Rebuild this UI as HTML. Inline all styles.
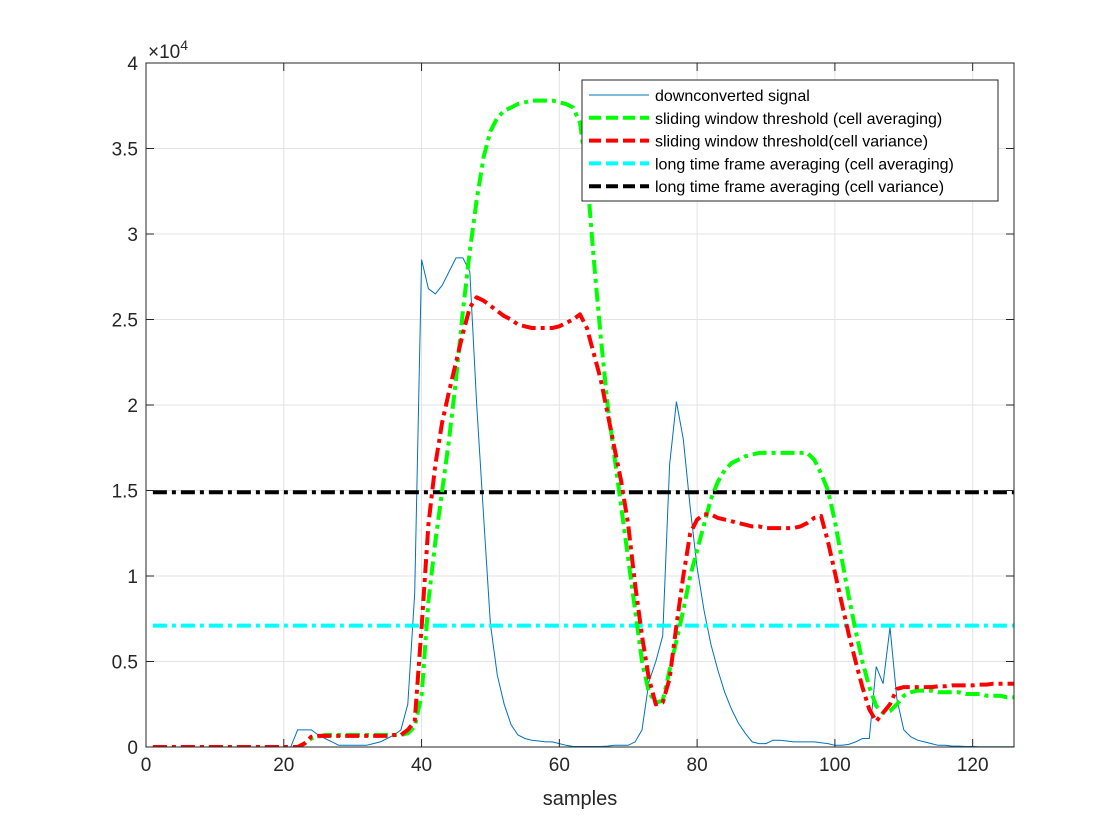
<!DOCTYPE html>
<html><head><meta charset="utf-8"><style>
body{margin:0;background:#fff;}
svg{display:block;font-family:"Liberation Sans",Arial,sans-serif;}
</style></head><body>
<svg id="chart" width="1120" height="840" viewBox="0 0 1120 840">
<rect x="0" y="0" width="1120" height="840" fill="#fff"/>
<g id="grid"></g>
<g id="series" clip-path="url(#clip)"></g>
<defs><clipPath id="clip"><rect x="146" y="63" width="868" height="684"/></clipPath></defs>
<g id="axes"></g>
<g id="legend"></g>
</svg>
<script>
const xTicks=[0,20,40,60,80,100,120];
const yTicks=[0,0.5,1,1.5,2,2.5,3,3.5,4];
const yTickLabels=["0","0.5","1","1.5","2","2.5","3","3.5","4"];
const signal=[0,0,0,0,0,0,0,0,0,0,0,0,0,0,0,0,0,0,0,0,0,0.1,0.1,0.1,0.07,0.05,0.03,0.01,0.01,0.01,0.01,0.01,0.02,0.03,0.05,0.07,0.1,0.25,0.9,2.85,2.68,2.65,2.7,2.78,2.86,2.86,2.78,2.0,1.35,0.72,0.42,0.25,0.13,0.07,0.05,0.04,0.035,0.03,0.03,0.02,0.01,0.003,0.003,0.003,0.003,0.003,0.005,0.01,0.01,0.01,0.03,0.1,0.38,0.5,0.65,1.65,2.02,1.8,1.4,1.05,0.8,0.6,0.45,0.32,0.22,0.14,0.08,0.03,0.02,0.02,0.04,0.04,0.035,0.03,0.03,0.03,0.03,0.025,0.02,0.01,0.01,0.015,0.03,0.05,0.05,0.47,0.37,0.7,0.28,0.1,0.06,0.04,0.03,0.02,0.01,0.01,0.005,0.005,0.003,0.003,0.002,0.002,0.001,0.001,0.001,0.001];
const greenCA=[0,0,0,0,0,0,0,0,0,0,0,0,0,0,0,0,0,0,0,0,0,0,0.02,0.05,0.06,0.07,0.07,0.07,0.07,0.07,0.07,0.07,0.07,0.07,0.07,0.07,0.07,0.08,0.12,0.3,0.85,1.2,1.5,1.8,2.15,2.55,2.9,3.2,3.45,3.6,3.68,3.72,3.74,3.76,3.77,3.78,3.78,3.78,3.78,3.77,3.76,3.74,3.65,3.35,2.85,2.4,2.0,1.7,1.4,1.1,0.8,0.5,0.32,0.26,0.27,0.45,0.62,0.8,1.0,1.15,1.3,1.45,1.55,1.62,1.66,1.68,1.7,1.71,1.72,1.72,1.72,1.72,1.72,1.72,1.72,1.72,1.68,1.6,1.5,1.32,1.1,0.88,0.68,0.5,0.35,0.24,0.2,0.21,0.25,0.3,0.32,0.33,0.33,0.33,0.32,0.32,0.32,0.32,0.31,0.31,0.31,0.3,0.3,0.3,0.29,0.29];
const redCV=[0,0,0,0,0,0,0,0,0,0,0,0,0,0,0,0,0,0,0,0,0,0,0.02,0.06,0.065,0.065,0.065,0.065,0.065,0.065,0.065,0.065,0.065,0.065,0.065,0.07,0.07,0.1,0.15,0.7,1.3,1.65,1.9,2.08,2.25,2.42,2.57,2.63,2.61,2.58,2.55,2.52,2.5,2.47,2.46,2.45,2.45,2.45,2.45,2.46,2.48,2.5,2.53,2.45,2.3,2.15,1.95,1.75,1.55,1.3,0.95,0.65,0.4,0.25,0.26,0.4,0.71,1.0,1.25,1.33,1.36,1.36,1.34,1.33,1.32,1.31,1.3,1.29,1.29,1.28,1.28,1.28,1.28,1.28,1.29,1.31,1.34,1.35,1.2,1.02,0.84,0.66,0.5,0.35,0.22,0.15,0.2,0.25,0.34,0.35,0.35,0.35,0.35,0.35,0.355,0.355,0.36,0.36,0.36,0.36,0.365,0.365,0.37,0.37,0.37,0.37];
const cyanLevel=[0.71];
const blackLevel=[1.49];
const NS="http://www.w3.org/2000/svg";
const X0=146,X1=1014,Y0=747,Y1=63,XMAX=126,YMAX=4;
function sx(v){return X0+v*(X1-X0)/XMAX;}
function sy(v){return Y0-v*(Y0-Y1)/YMAX;}
function mk(tag,attrs,parent){const e=document.createElementNS(NS,tag);for(const k in attrs)e.setAttribute(k,attrs[k]);parent.appendChild(e);return e;}
const grid=document.getElementById('grid'),axes=document.getElementById('axes'),ser=document.getElementById('series'),leg=document.getElementById('legend');
xTicks.forEach(t=>{
 const g=mk('line',{x1:sx(t),x2:sx(t),y1:Y0,y2:Y1,stroke:'#e3e3e3','stroke-width':1},grid);
 
 
 mk('line',{x1:sx(t),x2:sx(t),y1:Y0,y2:Y0-8,stroke:'#262626'},axes);
 mk('line',{x1:sx(t),x2:sx(t),y1:Y1,y2:Y1+8,stroke:'#262626'},axes);
 const tx=mk('text',{x:sx(t),y:Y0+24,'text-anchor':'middle','font-size':19,fill:'#262626'},axes);
 tx.textContent=t;
 
 
});
yTicks.forEach((t,i)=>{
 const g=mk('line',{x1:X0,x2:X1,y1:sy(t),y2:sy(t),stroke:'#e3e3e3','stroke-width':1},grid);
 
 
 mk('line',{x1:X0,x2:X0+8,y1:sy(t),y2:sy(t),stroke:'#262626'},axes);
 mk('line',{x1:X1,x2:X1-8,y1:sy(t),y2:sy(t),stroke:'#262626'},axes);
 const tx=mk('text',{x:X0-8,y:sy(t)+7,'text-anchor':'end','font-size':19,fill:'#262626'},axes);
 tx.textContent=yTickLabels[i];
 
 
});
const box=mk('rect',{x:X0,y:Y1,width:X1-X0,height:Y0-Y1,fill:'none',stroke:'#262626','stroke-width':1},axes);


const ex=mk('text',{x:148,y:58,'font-size':19,fill:'#262626'},axes);
ex.innerHTML='×10<tspan dy="-8" font-size="14">4</tspan>';


const xl=mk('text',{x:580,y:805,'text-anchor':'middle','font-size':20,fill:'#262626'},axes);
xl.textContent='samples';


function pts(arr){return arr.map((v,i)=>sx(i+1).toFixed(1)+','+sy(v).toFixed(1)).join(' ');}
const dd='14,5,4,5';
const s1=mk('polyline',{points:pts(signal),fill:'none',stroke:'#0072BD','stroke-width':1},ser);


const lc=mk('line',{x1:sx(1),x2:sx(XMAX),y1:sy(cyanLevel[0]),y2:sy(cyanLevel[0]),stroke:'#00FFFF','stroke-width':4,'stroke-dasharray':dd},ser);


const lb=mk('line',{x1:sx(1),x2:sx(XMAX),y1:sy(blackLevel[0]),y2:sy(blackLevel[0]),stroke:'#000','stroke-width':4,'stroke-dasharray':dd},ser);


const sg=mk('polyline',{points:pts(greenCA),fill:'none',stroke:'#00FF00','stroke-width':4,'stroke-dasharray':dd,'stroke-linejoin':'round'},ser);


const sr=mk('polyline',{points:pts(redCV),fill:'none',stroke:'#FF0000','stroke-width':4,'stroke-dasharray':dd,'stroke-linejoin':'round'},ser);


const lbox=mk('rect',{x:582,y:80,width:416,height:121,fill:'#fff',stroke:'#262626','stroke-width':1},leg);


const legLabels=['downconverted signal','sliding window threshold (cell averaging)','sliding window threshold(cell variance)','long time frame averaging (cell averaging)','long time frame averaging (cell variance)'];
const legColors=['#0072BD','#00FF00','#FF0000','#00FFFF','#000000'];
legLabels.forEach((t,i)=>{
 const y=95+i*22.8;
 const ln=mk('line',{x1:589,x2:649,y1:y,y2:y,stroke:legColors[i],'stroke-width':i==0?1:4,'stroke-dasharray':i==0?'none':'12,5'},leg);
 
 
 const tx=mk('text',{x:655,y:y+6,'font-size':16,fill:'#000'},leg);
 tx.textContent=t;
 
 
});
</script>
</body></html>
